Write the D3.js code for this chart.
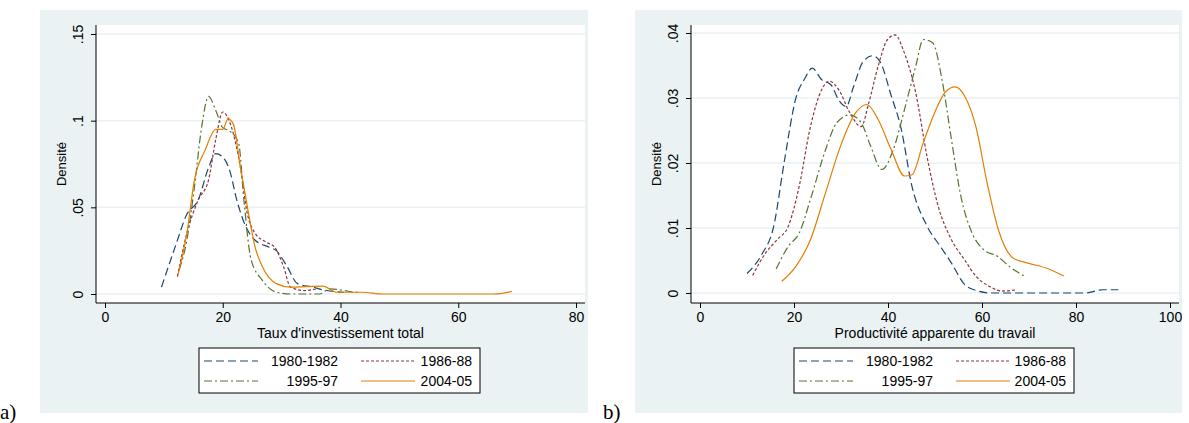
<!DOCTYPE html>
<html>
<head>
<meta charset="utf-8">
<script src="https://cdn.jsdelivr.net/npm/d3@7"></script>
<style>
  body { margin: 0; background: #fff; }
  text { font-family: "Liberation Sans", Arial, sans-serif; }
</style>
</head>
<body>
<svg id="chart" width="1189" height="423"></svg>
<script>
// Series names and styles shared by both panels
const seriesNames = ["1980-1982", "1986-88", "1995-97", "2004-05"];
const seriesColors = ["#1a476f", "#90353b", "#55752f", "#e37e00"];
const seriesDash = ["8,4", "3,2", "8,3,2,3", null];

// Panel a) : Taux d'investissement total, [x, density]
const invest8082 = [[9.6,.004],[12.1,.029],[13.9,.046],[15.8,.054],[17.6,.073],[18.8,.081],[20,.079],[21.2,.071],[22.4,.054],[23.9,.039],[25.5,.031],[27.9,.027],[29.1,.025],[30.9,.016],[32.7,.006],[35.2,.004],[37.6,.002],[40.6,.001]];
const invest8688 = [[12.3,.010],[13.9,.035],[15.8,.054],[17.6,.066],[18.8,.089],[20,.105],[21.5,.096],[23,.073],[24.2,.046],[25.5,.035],[27.3,.030],[28.8,.027],[30.3,.016],[31.5,.004],[33.9,.002],[36,.003]];
const invest9597 = [[12.6,.014],[13.9,.031],[15.2,.062],[16.4,.096],[17.6,.114],[18.8,.106],[20,.096],[21.2,.094],[22.7,.087],[23.6,.054],[24.8,.020],[26.7,.008],[29.1,.001],[31.5,0],[36.4,0],[38.2,.003],[40.6,.002],[42.4,.001],[43,.001]];
const invest0405 = [[12.4,.011],[13.9,.035],[15.2,.066],[17,.083],[18.8,.095],[20,.095],[20.9,.101],[21.8,.098],[23,.073],[24.2,.050],[25.5,.027],[26.7,.016],[29.1,.006],[31.5,.004],[37,.0045],[39.4,.001],[43.6,.001],[47.3,0],[66,0],[69.1,.0015]];

// Panel b) : Productivité apparente du travail, [x, density]
const prod8082 = [[10,.003],[13.2,.006],[15.6,.010],[18,.0205],[20.4,.030],[22.3,.033],[23.9,.0346],[25.9,.0328],[27.9,.032],[29.5,.0297],[31.1,.0287],[32.7,.0318],[34.7,.0356],[36.7,.0365],[38.3,.0356],[40.7,.0303],[42.7,.0256],[45.1,.0164],[48.3,.0103],[51.1,.0072],[53.5,.0046],[56.3,.0013],[58.7,.0004],[61.9,0],[81.8,0],[85.8,.0005],[89,.0005]];
const prod8688 = [[11.2,.0027],[14,.0062],[16.4,.0082],[18.8,.0103],[21.1,.0164],[23.5,.0256],[25.9,.0313],[27.5,.0326],[29.5,.0313],[31.9,.0277],[34.3,.0256],[35.9,.0292],[37.9,.0349],[39.9,.039],[41.5,.0397],[43.5,.0369],[45.9,.0308],[48.3,.021],[50.7,.0133],[53.5,.0082],[56.3,.0051],[58.7,.0026],[61.9,.0009],[64.2,.0003],[67.4,.0005]];
const prod9597 = [[16.2,.0037],[18.8,.0072],[21.1,.0092],[23.5,.0144],[26.7,.022],[29.1,.0262],[31.9,.0274],[34.3,.0262],[36.3,.0226],[38.7,.019],[41.1,.022],[43.5,.0282],[45.9,.0349],[47.5,.039],[49.5,.0385],[51.5,.0328],[53.5,.0236],[55.5,.0149],[57.9,.0092],[60.3,.0067],[63.4,.0056],[65.8,.0041],[69,.0026]];
const prod0405 = [[17.4,.0018],[20.4,.0041],[23.5,.0082],[26.7,.0154],[29.9,.0226],[33.1,.0277],[35.5,.029],[37.9,.0267],[40.7,.022],[43.5,.018],[45.1,.0182],[47.5,.0231],[49.9,.0277],[52.3,.031],[54.3,.0317],[56.3,.0303],[58.7,.0256],[61.1,.0169],[63.5,.0097],[66.6,.0054],[69.8,.0046],[73.8,.0038],[77.4,.0026]];

const investTicksX = [0, 20, 40, 60, 80];
const investTicksY = [0, .05, .1, .15];
const prodTicksX = [0, 20, 40, 60, 80, 100];
const prodTicksY = [0, .01, .02, .03, .04];

const svg = d3.select("#chart");

function drawPanel(p) {
    // background of the graph region
    svg.append("rect")
        .attr("x", p.bg[0]).attr("y", p.bg[1])
        .attr("width", p.bg[2] - p.bg[0]).attr("height", p.bg[3] - p.bg[1])
        .attr("fill", "#eaf2f3");
    svg.append("rect")
        .attr("x", p.plot[0]).attr("y", p.plot[1])
        .attr("width", p.plot[2] - p.plot[0]).attr("height", p.plot[3] - p.plot[1])
        .attr("fill", "#fff");

    let x = d3.scaleLinear().domain(p.xDomain).range(p.xRange);
    let y = d3.scaleLinear().domain(p.yDomain).range(p.yRange);

    // gridlines
    svg.append("g").selectAll("line").data(p.yTicks).join("line")
        .attr("x1", p.plot[0]).attr("x2", p.plot[2])
        .attr("y1", d => y(d)).attr("y2", d => y(d))
        .attr("stroke", "#eaf2f3").attr("stroke-width", 1.5);

    let fmt = d => d === 0 ? "0" : String(d).replace(/^0/, "");

    svg.append("g")
        .attr("transform", "translate(0," + p.plot[3] + ")")
        .call(d3.axisBottom(x).tickValues(p.xTicks).tickSize(5).tickSizeOuter(0).tickPadding(4))
        .call(g => g.select(".domain").attr("d", "M" + p.plot[0] + ",0H" + p.plot[2]))
        .call(g => g.selectAll("text").attr("font-size", 14).attr("fill", "#000"));

    let yAxis = svg.append("g")
        .attr("transform", "translate(" + p.plot[0] + ",0)")
        .call(d3.axisLeft(y).tickValues(p.yTicks).tickFormat(fmt).tickSize(5).tickSizeOuter(0))
        .call(g => g.select(".domain").attr("d", "M0," + p.plot[1] + "V" + p.plot[3]));
    yAxis.selectAll(".tick text")
        .attr("font-size", 14).attr("fill", "#000")
        .attr("transform", "rotate(-90)")
        .attr("x", 0).attr("y", -13).attr("dy", 0)
        .style("text-anchor", "middle");

    svg.append("text")
        .attr("transform", "translate(" + (p.plot[0] - 30) + "," + ((p.plot[1] + p.plot[3]) / 2) + ") rotate(-90)")
        .attr("text-anchor", "middle")
        .attr("font-size", 13)
        .text("Densité");

    svg.append("text")
        .attr("x", (p.xRange[0] + p.xRange[1]) / 2).attr("y", 338)
        .attr("text-anchor", "middle")
        .attr("font-size", 14)
        .text(p.xTitle);

    let line = d3.line()
        .x(d => x(d[0]))
        .y(d => y(d[1]))
        .curve(d3.curveMonotoneX);

    p.series.forEach((s, i) => {
        svg.append("path")
            .datum(s)
            .attr("d", line)
            .attr("fill", "none")
            .attr("stroke", seriesColors[i])
            .attr("stroke-width", 1.2)
            .attr("stroke-dasharray", seriesDash[i]);
    });

    // legend
    let lx = p.legend[0], lw = p.legend[1];
    svg.append("rect")
        .attr("x", lx).attr("y", 348).attr("width", lw).attr("height", 45)
        .attr("fill", "#fff").attr("stroke", "#000").attr("stroke-width", 1);
    seriesNames.forEach((name, i) => {
        let col = i % 2, row = Math.floor(i / 2);
        let cx = lx + 5 + col * 157;
        let cy = 361 + row * 20;
        svg.append("line")
            .attr("x1", cx).attr("x2", cx + 54)
            .attr("y1", cy).attr("y2", cy)
            .attr("stroke", seriesColors[i])
            .attr("stroke-width", 1.2)
            .attr("stroke-dasharray", seriesDash[i]);
        svg.append("text")
            .attr("x", col === 0 ? lx + 139 : lx + lw - 8).attr("y", cy + 5)
            .attr("text-anchor", "end")
            .attr("font-size", 14)
            .text(name);
    });

    svg.append("text")
        .attr("x", p.label[0]).attr("y", p.label[1])
        .style("font-family", "'Liberation Serif', serif")
        .attr("font-size", 21)
        .text(p.labelText);
}

drawPanel({
    bg: [40, 10, 588, 413], plot: [96, 25, 585, 303],
    xDomain: [0, 80], xRange: [105, 576],
    yDomain: [0, .15], yRange: [294, 34],
    xTicks: investTicksX, yTicks: investTicksY,
    xTitle: "Taux d'investissement total",
    series: [invest8082, invest8688, invest9597, invest0405],
    legend: [199, 281],
    label: [0, 419], labelText: "a)"
});

drawPanel({
    bg: [635, 10, 1182, 413], plot: [691, 25, 1179, 303],
    xDomain: [0, 100], xRange: [700, 1170],
    yDomain: [0, .04], yRange: [293, 33],
    xTicks: prodTicksX, yTicks: prodTicksY,
    xTitle: "Productivité apparente du travail",
    series: [prod8082, prod8688, prod9597, prod0405],
    legend: [794, 280],
    label: [603, 419], labelText: "b)"
});
</script>
</body>
</html>
